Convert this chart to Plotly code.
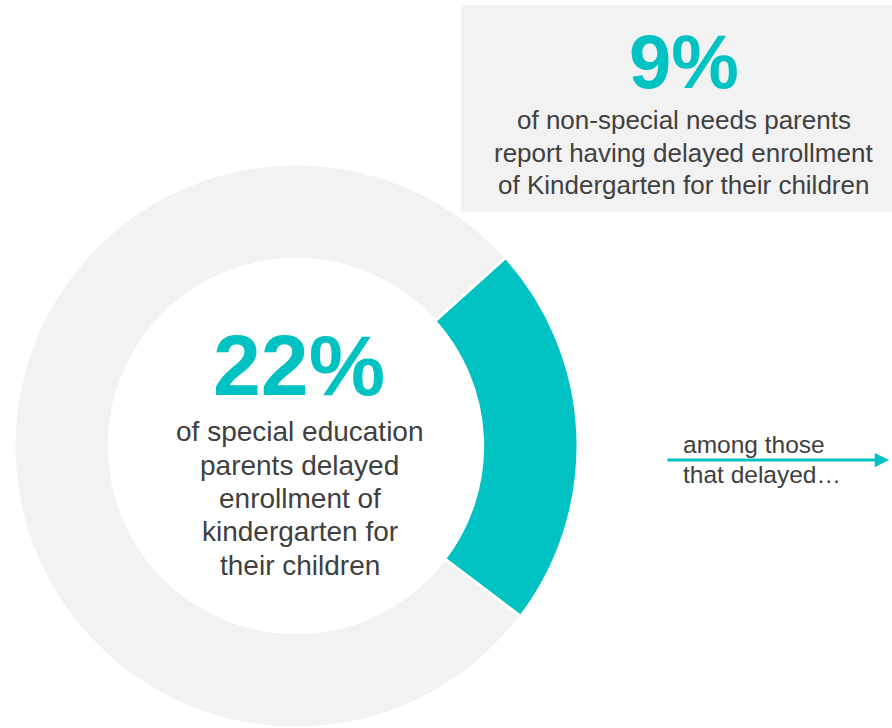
import plotly.graph_objects as go

# ---- data ----
slice_labels = ["Delayed enrollment", "Did not delay"]
slice_values = [22, 78]
special_pct = 22
nonspecial_pct = 9
center_lines = ["of special education", "parents delayed", "enrollment of",
                "kindergarten for", "their children"]
box_lines = ["of non-special needs parents", "report having delayed enrollment",
             "of Kindergarten for their children"]
arrow_lines = ["among those", "that delayed…"]

# ---- style ----
W, H = 892, 728
TEAL = "#00C2C2"
LIGHT = "#F2F2F2"
TXT = "#404040"
FONT = "Liberation Sans, Arial, sans-serif"


def px(x):
    return x / W


def py(y):
    return 1 - y / H


def mid_from_baseline(b, fs):
    return b - 0.3465 * fs


fig = go.Figure()
fig.add_trace(go.Pie(
    labels=slice_labels,
    values=slice_values,
    hole=0.662,
    sort=False,
    direction="clockwise",
    rotation=48,
    marker=dict(colors=[TEAL, LIGHT], line=dict(color="white", width=3)),
    textinfo="none",
    hoverinfo="label+percent",
    showlegend=False,
    domain=dict(x=[px(13), px(579)], y=[0, py(164)]),
))

annotations = []
# big 22%
annotations.append(dict(x=px(299), y=py(365), xref="paper", yref="paper",
                        text=f"<b>{special_pct}%</b>", showarrow=False,
                        xanchor="center", yanchor="middle",
                        font=dict(family=FONT, size=86, color=TEAL)))
for i, line in enumerate(center_lines):
    b = 441.7 + i * 33.3
    annotations.append(dict(x=px(299.5), y=py(mid_from_baseline(b, 28)),
                            xref="paper", yref="paper", text=line,
                            showarrow=False, xanchor="center", yanchor="middle",
                            font=dict(family=FONT, size=28, color=TXT)))

# top-right box text
annotations.append(dict(x=px(684), y=py(61.5), xref="paper", yref="paper",
                        text=f"<b>{nonspecial_pct}%</b>", showarrow=False,
                        xanchor="center", yanchor="middle",
                        font=dict(family=FONT, size=76, color=TEAL)))
for i, line in enumerate(box_lines):
    b = 129.3 + i * 32.4
    annotations.append(dict(x=px(683.5), y=py(mid_from_baseline(b, 26)),
                            xref="paper", yref="paper", text=line,
                            showarrow=False, xanchor="center", yanchor="middle",
                            font=dict(family=FONT, size=26, color=TXT)))

# arrow
annotations.append(dict(x=px(889), y=py(460), xref="paper", yref="paper",
                        ax=666 - 889, ay=0, text="", showarrow=True,
                        arrowhead=2, arrowsize=0.95, arrowwidth=3,
                        arrowcolor=TEAL))
for i, line in enumerate(arrow_lines):
    b = 453.3 + i * 30
    annotations.append(dict(x=px(680.5), y=py(mid_from_baseline(b, 24.5)),
                            xref="paper", yref="paper", text=line,
                            showarrow=False, xanchor="left", yanchor="middle",
                            font=dict(family=FONT, size=24.5, color=TXT)))

fig.update_layout(
    width=W, height=H,
    margin=dict(l=0, r=0, t=0, b=0),
    paper_bgcolor="white", plot_bgcolor="white",
    shapes=[dict(type="rect", xref="paper", yref="paper",
                 x0=px(461), x1=1, y0=py(212), y1=py(5),
                 fillcolor=LIGHT, line=dict(width=0), layer="below")],
    annotations=annotations,
)

fig.write_html("out.html",
               config={"displayModeBar": False},
               post_script="document.body.style.margin='0';"
                           "document.body.style.overflow='hidden';")
